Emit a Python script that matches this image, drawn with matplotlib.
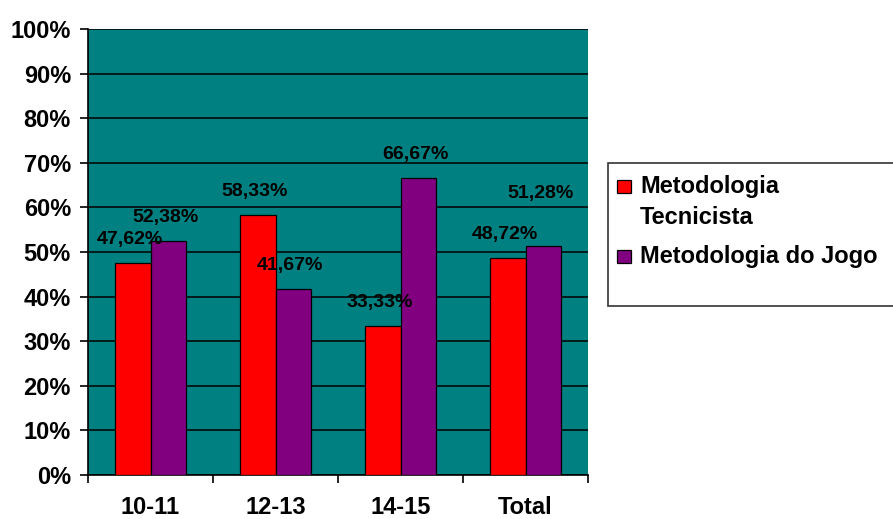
import matplotlib
matplotlib.use("Agg")
import matplotlib.pyplot as plt
from matplotlib.patches import Rectangle
import numpy as np

categories = ["10-11", "12-13", "14-15", "Total"]
tecnicista = [47.62, 58.33, 33.33, 48.72]
jogo = [52.38, 41.67, 66.67, 51.28]
series_names = ["Metodologia\nTecnicista", "Metodologia do Jogo"]
series_colors = ["#ff0000", "#800080"]
yticks = list(range(0, 101, 10))

plt.rcParams["font.family"] = ["Liberation Sans", "DejaVu Sans"]
plt.rcParams["font.weight"] = "bold"

W, H = 893, 519
fig = plt.figure(figsize=(W / 100, H / 100), dpi=100)
ax = fig.add_axes([88 / W, 1 - 475 / H, 500 / W, 446 / H])
ax.set_facecolor("#008080")

x = np.arange(len(categories))
w = 1 / 3.5
b1 = ax.bar(x - w / 2, tecnicista, w, color=series_colors[0], edgecolor="black", linewidth=0.9, zorder=3)
b2 = ax.bar(x + w / 2, jogo, w, color=series_colors[1], edgecolor="black", linewidth=0.9, zorder=3)

# extra lift (points) for labels that would otherwise collide
lift = {(1, 3): 21.0}

for s, (bars, vals) in enumerate(((b1, tecnicista), (b2, jogo))):
    for i, (r, v) in enumerate(zip(bars, vals)):
        ax.annotate(f"{v:.2f}%".replace(".", ","),
                    (r.get_x() + r.get_width() / 2, v),
                    xytext=(-2.2, 13.7 + lift.get((s, i), 0.0)),
                    textcoords="offset points",
                    ha="center", va="baseline", fontsize=14, fontweight="bold",
                    color="black", zorder=5, annotation_clip=False)

ax.set_xlim(-0.5, len(categories) - 0.5)
ax.set_ylim(0, 100)
ax.set_yticks(yticks)
ax.set_yticklabels([f"{t}%" for t in yticks], fontsize=17, fontweight="bold")
ax.yaxis.grid(True, color="black", linewidth=1.1, zorder=1)
ax.set_axisbelow(True)

ax.set_xticks(x)
ax.set_xticklabels(categories, fontsize=17, fontweight="bold")
ax.set_xticks(np.arange(-0.5, len(categories), 1), minor=True)
ax.tick_params(axis="x", which="major", length=0, pad=14.8)
ax.tick_params(axis="x", which="minor", length=5.8, width=1.2, direction="out")
ax.tick_params(axis="y", length=5.8, width=1.2, pad=6.5, direction="out")

for s in ("top", "right"):
    ax.spines[s].set_visible(False)
for s in ("left", "bottom"):
    ax.spines[s].set_linewidth(1.2)


def px(xp, yp):
    return xp / W, 1 - yp / H


# legend box, running off the right edge of the figure
fig.patches.append(Rectangle(px(608, 306), 300 / W, 143 / H,
                             transform=fig.transFigure, facecolor="white",
                             edgecolor="#333333", linewidth=1.2, zorder=0))

baseline = 193
for name, color in zip(series_names, series_colors):
    fig.patches.append(Rectangle(px(617, baseline), 14 / W, 13 / H,
                                 transform=fig.transFigure, facecolor=color,
                                 edgecolor="black", linewidth=0.9, zorder=2))
    for k, line in enumerate(name.split("\n")):
        if k:
            baseline += 31
        fig.text(*px(640, baseline), line, fontsize=17, fontweight="bold",
                 ha="left", va="baseline", color="black", zorder=3)
    baseline += 39

fig.savefig("out.png", dpi=100)
